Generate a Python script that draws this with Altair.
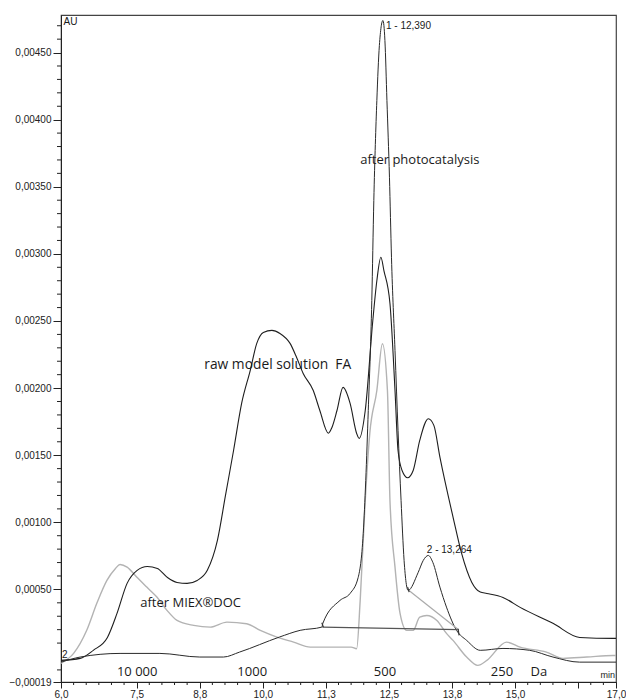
import altair as alt
import pandas as pd

# ---- data (time in min, absorbance in 1e-5 AU) ----
raw_t = [6.00, 6.38, 6.64, 6.92, 7.11, 7.31, 7.51, 7.71, 7.91, 8.11, 8.30, 8.50, 8.70, 8.90,
         9.10, 9.26, 9.42, 9.58, 9.75, 9.88, 10.01, 10.18, 10.34, 10.54, 10.67, 10.80, 11.00,
         11.13, 11.30, 11.37, 11.47, 11.59, 11.73, 11.86, 11.91, 12.03, 12.18, 12.26, 12.34,
         12.40, 12.52, 12.62, 12.68, 12.76, 12.87, 12.98, 13.11, 13.28, 13.39, 13.51, 13.77,
         13.94, 14.14, 14.31, 14.44, 14.76, 15.10, 15.75, 16.28, 16.94, 17.00]
raw_e5 = [-2.9, -1.4, 4.6, 14.2, 32.1, 54.5, 64.2, 67.1, 65.6, 58.9, 55.2, 54.5, 56.7, 64.2,
          86.5, 120, 153.5, 188.6, 213.1, 233.3, 241.5, 243, 240.7, 233.3, 222.8, 210.9, 198.2,
          183.3, 166.4, 170.7, 183.3, 200.5, 188.6, 166.2, 162.5, 183.3, 250.4, 280, 297.5,
          287.6, 263, 198.2, 153.5, 138.6, 133.2, 138.6, 161, 177.2, 172.2, 148.6, 103.9,
          76.8, 55.4, 48, 47, 44, 36.6, 24.7, 14.2, 13.5, 13.5]

photo_t = [6.00, 6.38, 7.17, 7.96, 8.75, 9.22, 9.54, 10.33, 10.74, 11.17, 11.19, 11.53, 11.73,
           11.89, 11.99, 12.04, 12.09, 12.16, 12.20, 12.26, 12.31, 12.38, 12.42, 12.46, 12.51,
           12.55, 12.62, 12.68, 12.74, 12.80, 12.88, 13.08, 13.18, 13.28, 13.37, 13.51, 13.64,
           13.84, 14.04, 14.31, 14.76, 15.29, 15.75, 16.28, 16.94, 17.00]
photo_e5 = [-4.2, -0.4, 2.3, 2.3, -0.4, -0.4, 3.3, 14.5, 19.5, 21.9, 24.7, 41.8, 47,
            58.9, 91.7, 131.2, 183.3, 265.3, 339.8, 414.3, 455.2, 473.9, 459, 414.3, 357.1,
            297.5, 228, 168.5, 116.3, 71.6, 49.3, 62.7, 71.6, 75.3, 70.1, 51.7, 36.8,
            19.5, 12, 4.6, 6, 4.6, -0.4, -4.2, -4.2, -4.2]

miex_t = [6.00, 6.25, 6.51, 6.71, 6.91, 7.08, 7.17, 7.31, 7.50, 7.70, 7.90, 8.10, 8.30, 8.63,
          8.96, 9.29, 9.68, 9.95, 10.28, 10.61, 10.94, 11.36, 11.75, 11.86, 11.93, 12.03,
          12.12, 12.26, 12.37, 12.47, 12.52, 12.62, 12.72, 12.85, 12.98, 13.11, 13.25, 13.45,
          13.64, 13.77, 14.04, 14.26, 14.44, 14.83, 15.10, 15.62, 15.95, 16.42, 16.94, 17.00]
miex_e5 = [-5.1, 2.3, 19.5, 39.6, 56.7, 65.6, 68.6, 66.6, 59.2, 51.7, 44.3, 34.4, 26.9, 23.2,
           21.9, 25.6, 24.4, 19.5, 14.5, 10.7, 7.0, 7.0, 7.0, 5.8, 41.8, 116.3,
           166.2, 198.2, 233, 198.2, 116.3, 66.6, 32.1, 19.5, 19.5, 29.4, 30.6, 26.9,
           17.2, 12, -0.4, -6.6, -2.9, 10.7, 7.0, 3.3, -1.4, -0.4, 0.8, 0.8]

# integration baselines and peak-limit markers (t, au in 1e-5)
seg_t1 = [11.18, 12.89, 11.17, 12.87, 13.87]
seg_e1 = [21.9, 49.3, 25.2, 51.7, 20.7]
seg_t2 = [13.88, 13.88, 11.20, 12.90, 13.89]
seg_e2 = [20.0, 20.0, 21.9, 48.0, 15.7]
seg_col = ["#555555", "#aaaaaa", "#333333", "#333333", "#333333"]

x_major = [6.0, 7.5, 8.75, 10.0, 11.25, 12.5, 13.75, 15.0, 16.25, 17.0]
y_major = [-0.00019, 0.0005, 0.0010, 0.0015, 0.0020, 0.0025, 0.0030, 0.0035, 0.0040, 0.0045]

W, H = 555, 667
X_DOM = [6.0, 17.0]
Y_DOM = [-0.00019, 0.00478]

x_minor = [6 + 0.25 * k for k in range(45) if round(6 + 0.25 * k, 2) not in x_major]
y_minor = [k * 0.0001 for k in range(-1, 48) if k % 5 != 0]


def series(ts, vs):
    return pd.DataFrame({"t": ts, "au": [v * 1e-5 for v in vs]})


xs = alt.Scale(domain=X_DOM, nice=False, zero=False)
ys = alt.Scale(domain=Y_DOM, nice=False, zero=False)

x_axis = alt.Axis(values=x_major, title=None, grid=False, tickSize=6, labelPadding=1,
                  labelExpr="datum.value == 16.25 ? '' : replace(format(datum.value, '.1f'), '.', ',')",
                  labelFont="Liberation Sans", labelFontSize=10, labelColor="#222",
                  domainColor="#222", tickColor="#222", labelFlush=False, labelOverlap=False)
y_axis = alt.Axis(values=y_major, title=None, grid=False, tickSize=8, labelPadding=2,
                  labelExpr="replace(format(datum.value, '.5f'), '.', ',')",
                  labelFont="Liberation Sans", labelFontSize=10, labelColor="#222",
                  domainColor="#222", tickColor="#222", labelOverlap=False)

X = alt.X("t:Q", scale=xs, axis=x_axis)
Y = alt.Y("au:Q", scale=ys, axis=y_axis)


def line(ts, vs, color, width):
    return alt.Chart(series(ts, vs)).mark_line(
        color=color, strokeWidth=width, interpolate="monotone", clip=True
    ).encode(x=X, y=Y)


miex_line = line(miex_t, miex_e5, "#b3b3b3", 1.4)
raw_line = line(raw_t, raw_e5, "#1e1e1e", 1.1)
photo_line = line(photo_t, photo_e5, "#2a2a2a", 1.0)

seg_df = pd.DataFrame({"t": seg_t1, "au": [v * 1e-5 for v in seg_e1],
                       "t2": seg_t2, "au2": [v * 1e-5 for v in seg_e2], "c": seg_col})
segs = alt.Chart(seg_df).mark_rule(strokeWidth=1.2).encode(
    x=X, y=Y, x2="t2:Q", y2="au2:Q", color=alt.Color("c:N", scale=None))

xminor = alt.Chart(pd.DataFrame({"t": x_minor})).mark_rule(color="#222").encode(
    x=X, y=alt.value(H), y2=alt.value(H + 3))
yminor = alt.Chart(pd.DataFrame({"au": y_minor})).mark_rule(color="#222").encode(
    y=Y, x=alt.value(-4), x2=alt.value(0))

# annotations
big_lbl = ["after photocatalysis", "raw model solution\u00a0\u00a0FA", "after MIEX\u00aeDOC"]
big_t = [11.93, 8.84, 7.57]
big_e5 = [369.6, 216.9, 39.6]
big_size = [13, 13.8, 13]
big = alt.Chart(pd.DataFrame({"t": big_t, "au": [v * 1e-5 for v in big_e5], "l": big_lbl,
                              "s": big_size})).mark_text(
    align="left", baseline="middle", font="Open Sans", color="#1a1a1a"
).encode(x=X, y=Y, text="l:N", size=alt.Size("s:Q", scale=None, legend=None))

da_lbl = ["10 000", "1000", "500", "250", "Da"]
da_t = [7.51, 9.79, 12.42, 14.74, 15.47]
da_e5 = [-11.8, -11.8, -11.8, -11.8, -11.8]
da = alt.Chart(pd.DataFrame({"t": da_t, "au": [v * 1e-5 for v in da_e5], "l": da_lbl})).mark_text(
    align="center", baseline="middle", font="Open Sans", fontSize=13, color="#1a1a1a"
).encode(x=X, y=Y, text="l:N")

small_lbl = ["1 - 12,390", "2 - 13,264", "AU", "2"]
small_t = [12.44, 13.25, 6.05, 6.02]
small_e5 = [470.1, 79.0, 473.1, 0.8]
small = alt.Chart(pd.DataFrame({"t": small_t, "au": [v * 1e-5 for v in small_e5], "l": small_lbl})).mark_text(
    align="left", baseline="middle", font="Liberation Sans", fontSize=10, color="#1a1a1a"
).encode(x=X, y=Y, text="l:N")

min_lbl = alt.Chart(pd.DataFrame({"t": [17.0], "au": [-0.00014], "l": ["min"]})).mark_text(
    align="right", baseline="middle", font="Liberation Sans", fontSize=9, color="#1a1a1a", dx=-1
).encode(x=X, y=Y, text="l:N")

chart = alt.layer(
    miex_line, raw_line, photo_line, segs, xminor, yminor, big, da, small, min_lbl
).properties(
    width=W, height=H,
    autosize=alt.AutoSizeParams(type="none"),
    padding={"left": 61, "top": 15, "right": 10, "bottom": 18},
    background="white",
).configure_view(stroke="#444444", strokeWidth=1.2)

chart.save("out.html", embed_options={"renderer": "svg", "actions": False})
